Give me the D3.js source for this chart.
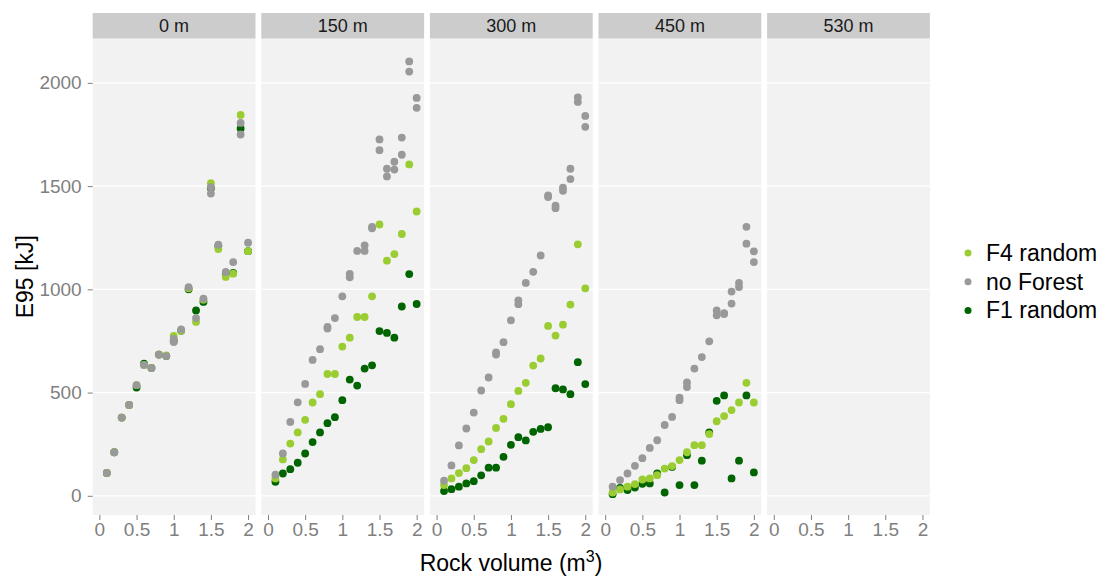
<!DOCTYPE html>
<html><head><meta charset="utf-8">
<script src="https://cdn.jsdelivr.net/npm/d3@7"></script>
<style>body{margin:0;background:#fff}svg{display:block;font-family:"Liberation Sans",Arial,sans-serif}</style>
</head><body><svg id="c" width="1100" height="578"></svg>
<script>
const panels = ["0 m","150 m","300 m","450 m","530 m"];
const volume = [0.1,0.2,0.3,0.4,0.5,0.6,0.7,0.8,0.9,1.0,1.1,1.2,1.3,1.4,1.5,1.6,1.7,1.8,1.9,2.0];
const seriesNames = ["F4 random","no Forest","F1 random"];
const seriesColors = ["#9acd32","#999999","#006400"];
const yTicks = [0,500,1000,1500,2000];
const xTicks = [0,0.5,1,1.5,2];
const xTickLabels = ["0","0.5","1","1.5","2"];

// 0 m
const f4_0 = [111,211,379,440,536,634,619,684,680,774,800,1005,842,950,1514,1195,1060,1076,1845,1185];
const nf_0 = [111,211,379,440,536,634,619,684,677,760,806,1011,861,955,1495,1216,1084,1132,1806,1226];
const nfB_0 = [null,null,null,null,null,null,null,null,null,745,null,null,null,null,1464,null,null,null,1750,null];
const f1_0 = [111,211,379,440,524,640,619,684,677,750,800,1000,898,939,1490,1210,1075,1080,1779,1185];
// 150 m
const f4_150 = [84,176,253,307,368,452,492,590,590,723,766,866,866,966,1314,1139,1171,1268,1605,1377];
const nf_150 = [102,205,358,453,542,658,710,818,861,966,1075,1186,1213,1302,1726,1584,1618,1735,2104,1927];
const nfB_150 = [null,null,null,null,null,null,null,810,null,null,1058,null,1186,1296,1674,1547,1580,1652,2055,1879];
const f1_150 = [68,108,129,160,205,260,307,352,381,463,563,534,616,632,798,789,766,917,1074,929];
// 300 m
const f4_300 = [52,84,110,134,173,226,263,329,373,444,508,547,631,665,823,776,829,926,1218,1005];
const nf_300 = [73,147,244,326,403,510,573,694,744,850,947,1031,1085,1164,1455,1405,1492,1584,1930,1840];
const nfB_300 = [null,null,null,null,null,null,null,684,null,null,928,null,null,null,1447,1393,1477,1534,1908,1787];
const f1_300 = [23,32,44,60,71,99,136,136,189,247,284,268,310,324,332,521,515,492,647,541];
// 450 m
const f4_450 = [16,31,44,57,79,84,100,132,144,173,211,245,245,299,361,386,415,452,547,452];
const nf_450 = [44,76,108,145,182,232,269,343,382,476,549,616,672,748,898,885,989,1031,1303,1184];
const nfB_450 = [null,null,null,null,null,null,null,null,null,463,527,null,null,null,874,880,931,1011,1221,1132];
const f1_450 = [8,38,28,40,58,60,108,16,140,52,197,52,170,307,460,486,84,170,486,113];

const panelData = [
  [[f1_0],[f4_0],[nf_0,nfB_0]],
  [[f1_150],[f4_150],[nf_150,nfB_150]],
  [[f1_300],[f4_300],[nf_300,nfB_300]],
  [[f1_450],[f4_450],[nf_450,nfB_450]],
  [[],[],[]]
];
const drawColors = ["#006400","#9acd32","#999999"];

const svg = d3.select("#c");
const left0 = 92.7, pw = 162.8, gap = 5.8, plotTop = 38.5, plotBottom = 515, stripTop = 13;
const y = d3.scaleLinear().domain([-93,2215]).range([plotBottom, plotTop]);
const FONT = "Liberation Sans, Arial, sans-serif";

panels.forEach((name,i)=>{
  const px = left0 + i*(pw+gap);
  const x = d3.scaleLinear().domain([-0.09,2.1]).range([px, px+pw]);
  const g = svg.append("g");
  g.append("rect").attr("x",px).attr("y",plotTop).attr("width",pw).attr("height",plotBottom-plotTop).attr("fill","#f2f2f2");
  g.selectAll("line.grid").data(yTicks).join("line")
    .attr("x1",px).attr("x2",px+pw).attr("y1",d=>y(d)).attr("y2",d=>y(d))
    .attr("stroke","#fff").attr("stroke-width",1.2);
  g.append("rect").attr("x",px).attr("y",stripTop).attr("width",pw).attr("height",plotTop-stripTop).attr("fill","#cccccc");
  g.append("text").attr("x",px+pw/2).attr("y",(stripTop+plotTop)/2+6.5).attr("text-anchor","middle")
    .attr("font-size",18).attr("fill","#1a1a1a").text(name);
  panelData[i].forEach((arrs,si)=>{
    arrs.forEach(arr=>{
      const pts = volume.map((v,k)=>[v,arr[k]]).filter(p=>p[1]!=null);
      g.selectAll(null).data(pts).join("circle")
        .attr("cx",d=>x(d[0])).attr("cy",d=>y(d[1])).attr("r",3.9).attr("fill",drawColors[si]);
    });
  });
  const xa = svg.append("g").attr("transform",`translate(0,${plotBottom})`)
    .call(d3.axisBottom(x).tickValues(xTicks).tickFormat((d,k)=>xTickLabels[k]).tickSize(5).tickPadding(3));
  xa.select(".domain").remove();
  xa.selectAll("line").attr("stroke","#7f7f7f");
  xa.selectAll("text").attr("fill","#7f7f7f").attr("font-size",19).attr("font-family",FONT);
});

const ya = svg.append("g").attr("transform",`translate(${left0},0)`)
  .call(d3.axisLeft(y).tickValues(yTicks).tickFormat(d3.format("d")).tickSize(5).tickPadding(6));
ya.select(".domain").remove();
ya.selectAll("line").attr("stroke","#7f7f7f");
ya.selectAll("text").attr("fill","#7f7f7f").attr("font-size",19).attr("font-family",FONT);

svg.append("text").attr("transform",`translate(33,${(plotTop+plotBottom)/2}) rotate(-90)`).attr("text-anchor","middle")
  .attr("font-size",23).attr("fill","#000").text("E95 [kJ]");
const xt = svg.append("text").attr("x",511).attr("y",571).attr("text-anchor","middle").attr("font-size",23).attr("fill","#000");
xt.append("tspan").text("Rock volume (m");
xt.append("tspan").attr("dy",-9).attr("font-size",16).text("3");
xt.append("tspan").attr("dy",9).text(")");

const leg = svg.append("g");
seriesNames.forEach((n,k)=>{
  const yy = 253 + k*28.7;
  leg.append("circle").attr("cx",968).attr("cy",yy).attr("r",3.5).attr("fill",seriesColors[k]);
  leg.append("text").attr("x",986).attr("y",yy+8).attr("font-size",23).attr("fill","#000").text(n);
});
</script></body></html>
